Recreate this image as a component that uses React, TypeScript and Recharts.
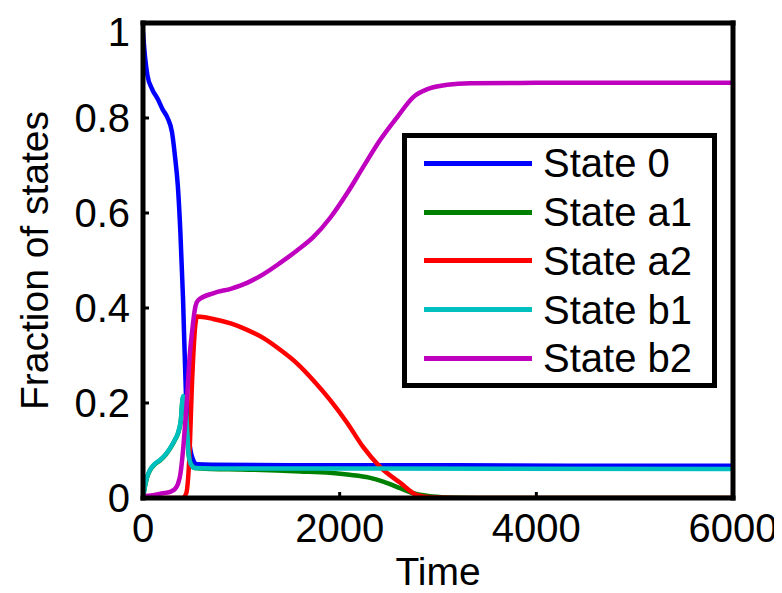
import { LineChart, Line, XAxis, YAxis } from 'recharts';

const FONT = '"Liberation Sans", Arial, Helvetica, sans-serif';

const xTicks = [0, 2000, 4000, 6000];
const yTicks = [0, 0.2, 0.4, 0.6, 0.8, 1];

// State 0
const state0T = [0, 20, 45, 90, 150, 200, 250, 295, 325, 355, 380, 407, 438, 470, 500, 550, 700, 1500, 3000, 4500, 6000];
const state0V = [0.98, 0.93, 0.89, 0.862, 0.84, 0.818, 0.8, 0.77, 0.72, 0.655, 0.56, 0.42, 0.21, 0.12, 0.086, 0.071, 0.07, 0.069, 0.069, 0.068, 0.068];

// State a1 (mostly hidden under b1 early on)
const stateA1T = [0, 20, 41, 71, 120, 173, 230, 275, 330, 356, 385, 405, 430, 450, 465, 490, 530, 700, 1000, 1600, 1900, 2100, 2300, 2450, 2600, 2750, 2900, 3100, 3400, 6000];
const stateA1V = [0, 0.024, 0.043, 0.058, 0.071, 0.079, 0.091, 0.104, 0.124, 0.136, 0.163, 0.21, 0.196, 0.138, 0.09, 0.07, 0.063, 0.061, 0.06, 0.056, 0.053, 0.049, 0.043, 0.034, 0.022, 0.01, 0.004, 0.001, 0, 0];

// State a2
const stateA2T = [0, 400, 440, 470, 500, 530, 550, 713, 900, 1059, 1230, 1395, 1568, 1731, 1904, 2077, 2240, 2413, 2616, 2789, 2950, 3200, 6000];
const stateA2V = [0, 0, 0.01, 0.08, 0.25, 0.36, 0.382, 0.377, 0.367, 0.354, 0.336, 0.312, 0.283, 0.248, 0.206, 0.158, 0.107, 0.065, 0.032, 0.006, 0.001, 0, 0];

// State b1
const stateB1T = [0, 20, 41, 71, 120, 173, 230, 275, 330, 356, 385, 407, 430, 450, 465, 490, 530, 700, 2000, 6000];
const stateB1V = [0, 0.025, 0.044, 0.059, 0.072, 0.08, 0.092, 0.105, 0.125, 0.137, 0.165, 0.215, 0.2, 0.14, 0.09, 0.07, 0.063, 0.062, 0.062, 0.061];

// State b2
const stateB2T = [0, 100, 200, 275, 330, 356, 380, 407, 430, 448, 475, 499, 530, 560, 713, 900, 1059, 1230, 1395, 1560, 1731, 1904, 2077, 2240, 2413, 2586, 2749, 2922, 3095, 3329, 4000, 6000];
const stateB2V = [0.004, 0.006, 0.01, 0.013, 0.02, 0.03, 0.05, 0.1, 0.16, 0.21, 0.3, 0.35, 0.4, 0.416, 0.431, 0.441, 0.453, 0.472, 0.495, 0.52, 0.549, 0.59, 0.642, 0.697, 0.754, 0.802, 0.844, 0.863, 0.87, 0.873, 0.874, 0.874];

const toPoints = (t: number[], v: number[]) => t.map((x, i) => ({ t: x, v: v[i] }));

const series = [
  { name: 'State 0', color: '#0000ff', data: toPoints(state0T, state0V) },
  { name: 'State a1', color: '#008000', data: toPoints(stateA1T, stateA1V) },
  { name: 'State a2', color: '#ff0000', data: toPoints(stateA2T, stateA2V) },
  { name: 'State b1', color: '#00bfbf', data: toPoints(stateB1T, stateB1V) },
  { name: 'State b2', color: '#bf00bf', data: toPoints(stateB2T, stateB2V) },
];

const axisLine = { stroke: '#000', strokeWidth: 5, strokeLinecap: 'square' as const };
const tickLine = { stroke: '#000', strokeWidth: 3 };
const tickStyle = { fill: '#000', fontSize: 40, fontFamily: FONT };
const blank = () => '';

function Legendbox() {
  return (
    <div
      style={{
        position: 'absolute',
        left: 394,
        top: 125,
        width: 315,
        height: 255,
        boxSizing: 'border-box',
        border: '5px solid #000',
        background: '#fff',
        paddingTop: 1,
        fontFamily: FONT,
        fontSize: 40,
        color: '#000',
      }}
    >
      {series.map((s) => (
        <div key={s.name} style={{ height: 48.75, display: 'flex', alignItems: 'center' }}>
          <div style={{ marginLeft: 17, width: 108, height: 5, background: s.color }} />
          <span style={{ marginLeft: 11, lineHeight: 1 }}>{s.name}</span>
        </div>
      ))}
    </div>
  );
}

export default function App() {
  return (
    <div style={{ position: 'relative', width: 774, height: 585, background: '#fff' }}>
      <LineChart width={774} height={585} margin={{ top: 14, right: 48, bottom: 0, left: 0 }}>
        <XAxis
          dataKey="t"
          type="number"
          domain={[0, 6000]}
          ticks={xTicks}
          height={95}
          axisLine={axisLine}
          tickLine={tickLine}
          tickSize={-6}
          tickMargin={22}
          tick={tickStyle}
          allowDataOverflow
          label={{ value: 'Time', position: 'insideBottom', offset: 8, style: { fill: '#000', fontSize: 39, fontFamily: FONT } }}
        />
        <XAxis
          xAxisId="top"
          orientation="top"
          type="number"
          domain={[0, 6000]}
          ticks={xTicks}
          height={1}
          axisLine={axisLine}
          tickLine={tickLine}
          tickSize={-6}
          tickFormatter={blank}
        />
        <YAxis
          type="number"
          domain={[0, 1]}
          ticks={yTicks}
          width={135}
          axisLine={axisLine}
          tickLine={tickLine}
          tickSize={-6}
          tickMargin={19}
          tick={tickStyle}
          allowDataOverflow
          label={{
            value: 'Fraction of states',
            angle: -90,
            position: 'insideLeft',
            offset: 26,
            style: { fill: '#000', fontSize: 39, fontFamily: FONT, textAnchor: 'middle' },
          }}
        />
        <YAxis
          yAxisId="right"
          orientation="right"
          type="number"
          domain={[0, 1]}
          ticks={yTicks}
          width={1}
          axisLine={axisLine}
          tickLine={tickLine}
          tickSize={-6}
          tickFormatter={blank}
        />
        {series.map((s) => (
          <Line
            key={s.name}
            data={s.data}
            dataKey="v"
            name={s.name}
            type="monotone"
            stroke={s.color}
            strokeWidth={4.5}
            dot={false}
            activeDot={false}
            isAnimationActive={false}
          />
        ))}
      </LineChart>
      <Legendbox />
    </div>
  );
}
